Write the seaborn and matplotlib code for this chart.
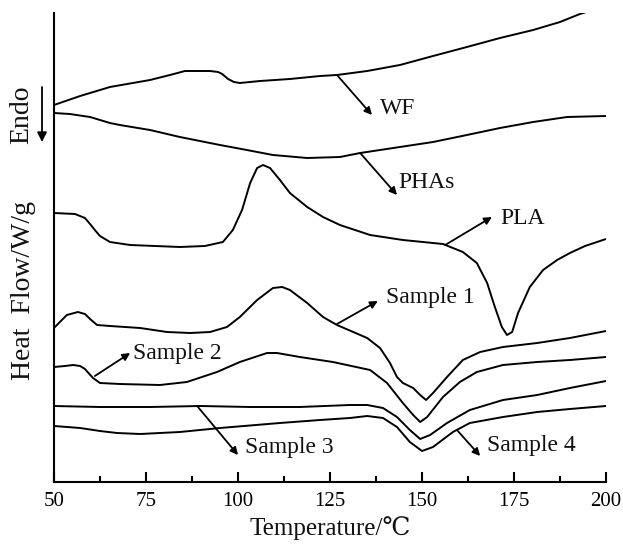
import numpy as np
import pandas as pd
import matplotlib
matplotlib.use("Agg")
import matplotlib.pyplot as plt
import seaborn as sns

# ---- data (temperature in °C, heat flow in arbitrary offset units) ----
wf_t = [50.0, 57.1, 65.2, 76.1, 81.5, 85.6, 92.4, 94.6, 95.7, 97.3, 98.9, 100.5, 106.0,
        114.1, 122.3, 126.9, 135.1, 144.0, 153.0, 162.2, 171.2, 180.2, 187.5, 192.9, 200.0]
wf_h = [377, 386, 395, 402, 407, 411, 411, 410, 408, 403, 400, 399, 401,
        403, 406, 407, 411, 417, 426, 435, 444, 452, 460, 468, 476]

phas_t = [50.0, 54.3, 59.8, 62.5, 65.2, 67.9, 76.1, 84.2, 95.1, 102.4, 109.5, 118.8,
          127.7, 133.2, 144.0, 153.0, 162.2, 171.2, 180.2, 189.4, 200.0]
phas_h = [369, 368, 365, 362, 359, 357, 352, 345, 337, 332, 327, 324,
          325, 329, 335, 340, 347, 354, 360, 365, 366]

pla_t = [50.0, 55.7, 58.4, 59.8, 61.1, 62.5, 65.2, 70.7, 84.2, 91.0, 95.9, 98.6, 101.1,
         103.3, 105.2, 106.8, 108.7, 111.4, 114.1, 118.8, 123.1, 127.7, 135.9, 144.8,
         155.7, 161.1, 164.9, 167.7, 169.8, 171.7, 173.1, 174.5, 176.1, 179.3, 182.9,
         186.7, 190.2, 194.3, 200.0]
pla_h = [269, 268, 264, 258, 252, 246, 240, 237, 235, 236, 240, 252, 272,
         299, 314, 317, 314, 302, 289, 275, 265, 257, 247, 242,
         238, 230, 219, 199, 175, 155, 147, 150, 169, 195, 212,
         222, 229, 236, 243]

s1_t = [50.0, 51.6, 53.5, 56.5, 58.4, 59.8, 61.7, 65.2, 73.4, 80.7, 87.0, 92.4, 97.0,
        100.5, 105.2, 109.5, 112.0, 114.1, 118.8, 123.1, 126.9, 135.1, 138.6, 141.3,
        143.2, 144.8, 147.6, 149.5, 151.1, 153.0, 156.8, 161.1, 165.8, 172.0, 181.3,
        190.2, 200.0]
s1_h = [154, 160, 167, 170, 168, 163, 157, 156, 154, 150, 149, 150, 155,
        165, 182, 194, 195, 192, 179, 165, 157, 144, 134, 119,
        105, 99, 94, 87, 82, 89, 105, 122, 130, 135, 139,
        144, 151]

s2_t = [50.0, 53.0, 55.2, 57.1, 58.4, 60.6, 62.5, 67.9, 78.8, 86.1, 94.3, 100.5, 107.9,
        110.6, 116.8, 125.8, 135.9, 140.5, 144.8, 147.6, 149.5, 151.4, 155.7, 160.3,
        164.9, 172.0, 181.3, 190.2, 200.0]
s2_h = [115, 116, 117, 116, 113, 104, 99, 98, 97, 100, 110, 120, 129,
        129, 125, 120, 112, 99, 79, 67, 60, 65, 85, 100,
        110, 117, 120, 122, 125]

s3_t = [50.0, 62.5, 76.1, 89.7, 103.3, 116.8, 130.4, 135.1, 139.4, 143.2, 146.7, 149.5,
        152.2, 156.8, 163.0, 172.0, 181.3, 190.2, 200.0]
s3_h = [76, 75, 75, 76, 75, 75, 77, 77, 74, 65, 52, 43,
        47, 59, 72, 82, 87, 94, 101]

s4_t = [50.0, 57.1, 62.5, 67.1, 73.4, 84.2, 95.1, 111.4, 122.3, 130.4, 135.1, 139.4,
        143.2, 146.7, 150.0, 153.0, 158.4, 163.0, 172.0, 181.3, 190.2, 200.0]
s4_h = [56, 54, 51, 49, 48, 50, 54, 59, 62, 64, 66, 64,
        55, 40, 31, 35, 50, 59, 65, 70, 73, 76]

series_names = ["WF", "PHAs", "PLA", "Sample 1", "Sample 2", "Sample 3", "Sample 4"]
series_t = [wf_t, phas_t, pla_t, s1_t, s2_t, s3_t, s4_t]
series_h = [wf_h, phas_h, pla_h, s1_h, s2_h, s3_h, s4_h]

# label annotations: arrow tail, arrow head, text anchor (left-center)
labels = ["WF", "PHAs", "PLA", "Sample 1", "Sample 2", "Sample 3", "Sample 4"]
tail_t = [126.9, 133.2, 156.3, 126.9, 61.1, 88.9, 159.5]
tail_h = [407, 329, 237, 158, 106, 76, 52]
head_t = [136.4, 143.2, 169.0, 138.0, 70.7, 100.0, 165.8]
head_h = [367, 287, 265, 181, 129, 27, 26]
text_t = [138.6, 143.5, 171.2, 140.2, 71.5, 101.9, 167.7]
text_h = [374, 300, 264, 184, 129, 35, 37]

x_ticks = [50, 75, 100, 125, 150, 175, 200]

frames = []
for n, t, h in zip(series_names, series_t, series_h):
    frames.append(pd.DataFrame({"T": t, "H": h, "series": n}))
df = pd.concat(frames, ignore_index=True)

sns.set_theme(style="ticks")
plt.rcParams["font.family"] = ["Liberation Serif", "DejaVu Serif"]

fig = plt.figure(figsize=(6.23, 5.51), dpi=100)
ax = fig.add_axes([54 / 623, 1 - 482 / 551, (606 - 54) / 623, (482 - 13) / 551])

sns.lineplot(data=df, x="T", y="H", units="series", estimator=None, sort=False,
             color="black", linewidth=1.4, ax=ax, legend=False)
for ln in ax.get_lines():
    ln.set_solid_joinstyle("round")

ax.set_xlim(50, 200)
ax.set_ylim(0, 469)
ax.set_xticks(x_ticks)
ax.set_xticklabels([str(v) for v in x_ticks], fontsize=15)
ax.set_xticks(np.arange(62.5, 200, 25), minor=True)
ax.tick_params(axis="x", which="major", direction="in", length=7, width=1.5, pad=7, colors="black")
ax.tick_params(axis="x", which="minor", direction="in", length=4, width=1.5, colors="black")
ax.set_yticks([])
for s in ["top", "right"]:
    ax.spines[s].set_visible(False)
for s in ["left", "bottom"]:
    ax.spines[s].set_linewidth(1.5)
    ax.spines[s].set_color("black")
ax.set_facecolor("white")
ax.set_xlabel("Temperature/\u2103", fontsize=18, labelpad=4, color="#111111")
ax.set_ylabel("")

for lab, t0, h0, t1, h1, tx, ty in zip(labels, tail_t, tail_h, head_t, head_h, text_t, text_h):
    ax.annotate("", xy=(t1, h1), xytext=(t0, h0),
                arrowprops=dict(arrowstyle="-|>", color="black", lw=1.3,
                                mutation_scale=11, shrinkA=0, shrinkB=0),
                annotation_clip=False)
    ax.text(tx, ty, lab, fontsize=17, ha="left", va="center", color="#111111")

# y label and Endo indicator
fig.text(24 / 623, 1 - 291 / 551, "Heat  Flow/W/g", rotation=90, fontsize=20,
         ha="center", va="center", color="#111111")
fig.text(22 / 623, 1 - 115 / 551, "Endo", rotation=90, fontsize=20,
         ha="center", va="center", color="#111111")
fig.patches.append(matplotlib.patches.FancyArrowPatch(
    (42 / 623, 1 - 87 / 551), (42 / 623, 1 - 142 / 551), transform=fig.transFigure,
    arrowstyle="-|>", mutation_scale=14, color="black", lw=1.3, shrinkA=0, shrinkB=0))

fig.savefig("out.png", dpi=100, facecolor="white")
